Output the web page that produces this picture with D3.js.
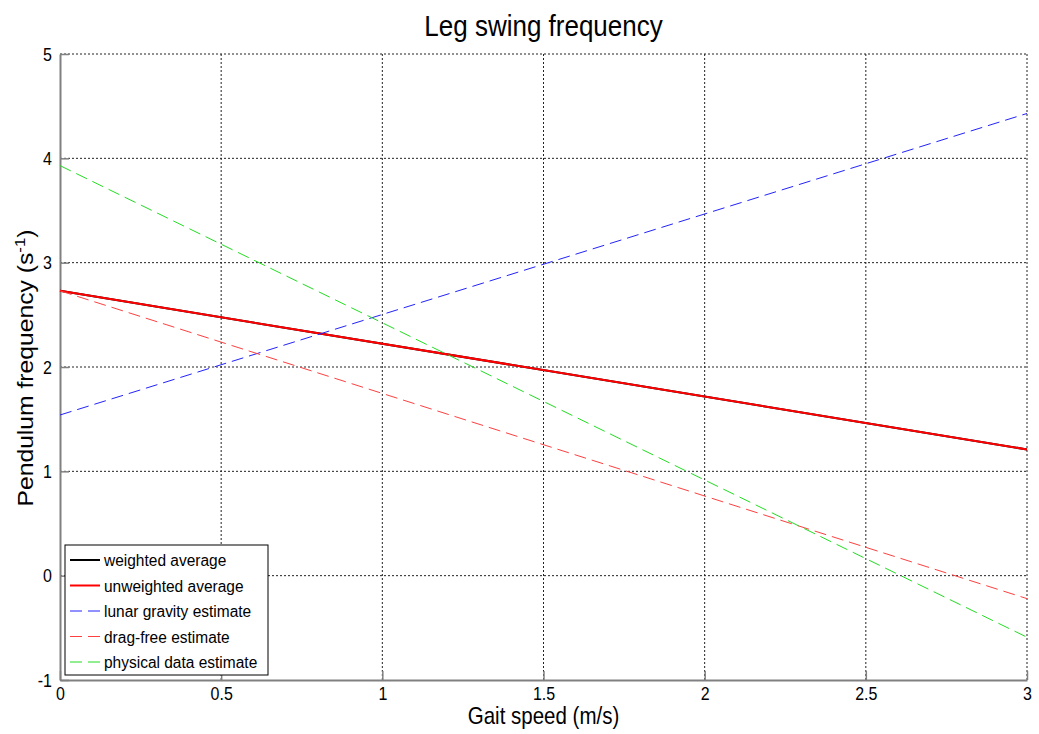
<!DOCTYPE html>
<html>
<head>
<meta charset="utf-8">
<script src="https://cdn.jsdelivr.net/npm/d3@7"></script>
<style>
  body { margin: 0; background: #fff; }
  svg text { font-family: "Liberation Sans", Arial, sans-serif; }
  .grid line { stroke: #222; stroke-dasharray: 2,2; stroke-width: 1; }
</style>
</head>
<body>
<div id="chart"></div>
<script>
// Gait speed endpoints (m/s) and pendulum frequency estimates (1/s)
const speeds = [0, 3];
const weightedAvg = [2.73, 1.21];
const unweightedAvg = [2.73, 1.21];
const lunarGravity = [1.54, 4.43];
const dragFree = [2.73, -0.22];
const physicalData = [3.93, -0.59];

const xTicks = [0, 0.5, 1, 1.5, 2, 2.5, 3];
const yTicks = [-1, 0, 1, 2, 3, 4, 5];

const seriesNames = ["weighted average", "unweighted average", "lunar gravity estimate",
    "drag-free estimate", "physical data estimate"];
const seriesValues = [weightedAvg, unweightedAvg, lunarGravity, dragFree, physicalData];
const seriesStyle = [
    { color: "#000000", width: 2, dash: null },
    { color: "#ff0000", width: 2, dash: null },
    { color: "#2222ff", width: 1, dash: "12,6" },
    { color: "#ff4040", width: 1, dash: "12,6" },
    { color: "#22dd22", width: 1, dash: "12,6" }
];

const W = 1039, H = 734;
const margin = { top: 54, right: 12, bottom: 54, left: 60 };
const width = W - margin.left - margin.right;
const height = H - margin.top - margin.bottom;

const svg = d3.select("#chart").append("svg")
    .attr("width", W).attr("height", H);
const g = svg.append("g").attr("transform", `translate(${margin.left},${margin.top})`);

const x = d3.scaleLinear().domain([0, 3]).range([0, width]);
const y = d3.scaleLinear().domain([-1, 5]).range([height, 0]);

// dotted grid
g.append("g").attr("class", "grid")
    .selectAll("line").data(xTicks.slice(1)).join("line")
    .attr("x1", d => x(d)).attr("x2", d => x(d))
    .attr("y1", 0).attr("y2", height);
g.append("g").attr("class", "grid")
    .selectAll("line").data(yTicks.slice(1)).join("line")
    .attr("x1", 0).attr("x2", width)
    .attr("y1", d => y(d)).attr("y2", d => y(d));

// axes (ticks pointing inward), labels slightly stretched vertically like the original
const xAxis = g.append("g").attr("transform", `translate(0,${height})`)
    .call(d3.axisBottom(x).tickValues(xTicks).tickFormat(d => String(d)).tickSizeInner(-9).tickSizeOuter(0));
const yAxis = g.append("g")
    .call(d3.axisLeft(y).tickValues(yTicks).tickFormat(d => String(d)).tickSizeInner(-9).tickSizeOuter(0));
[xAxis, yAxis].forEach(a => {
    a.select(".domain").attr("stroke", "#808080").attr("stroke-width", 2);
    a.selectAll(".tick line").attr("stroke", "#808080").attr("stroke-width", 1.5);
    a.selectAll(".tick text").attr("font-size", 16).attr("fill", "#000")
        .attr("x", 0).attr("y", 0).attr("dy", null);
});
xAxis.selectAll(".tick text").attr("transform", "translate(0,20) scale(1,1.2)");
yAxis.selectAll(".tick text").attr("transform", "translate(-8,6) scale(1,1.2)");

// lines
const line = d3.line().x(d => x(d[0])).y(d => y(d[1]));
seriesValues.forEach((vals, i) => {
    const s = seriesStyle[i];
    g.append("path")
        .datum(speeds.map((sp, j) => [sp, vals[j]]))
        .attr("fill", "none")
        .attr("stroke", s.color)
        .attr("stroke-width", s.width)
        .attr("stroke-dasharray", s.dash)
        .attr("d", line);
});

// legend
const legend = g.append("g").attr("transform", `translate(${x(0) + 5},${y(-1) - 135})`);
legend.append("rect")
    .attr("width", 203).attr("height", 130)
    .attr("fill", "#fff").attr("stroke", "#000").attr("stroke-width", 1);
seriesNames.forEach((name, i) => {
    const s = seriesStyle[i];
    const ly = 15 + i * 25.5;
    legend.append("line")
        .attr("x1", 5).attr("x2", 35).attr("y1", ly).attr("y2", ly)
        .attr("stroke", s.color).attr("stroke-width", s.width)
        .attr("stroke-dasharray", s.dash ? "12,6" : null);
    legend.append("text")
        .attr("transform", `translate(39,${ly + 6}) scale(1,1.1)`)
        .attr("font-size", 15.5).text(name);
});

// title and axis labels
svg.append("text")
    .attr("transform", `translate(${margin.left + width / 2},36) scale(1,1.17)`)
    .attr("text-anchor", "middle").attr("font-size", 26)
    .text("Leg swing frequency");

svg.append("text")
    .attr("transform", `translate(${margin.left + width / 2},724) scale(1,1.15)`)
    .attr("text-anchor", "middle").attr("font-size", 20.5)
    .text("Gait speed (m/s)");

const yl = svg.append("text")
    .attr("transform", "translate(33,368) rotate(-90)")
    .attr("text-anchor", "middle").attr("font-size", 22)
    .attr("textLength", 277).attr("lengthAdjust", "spacingAndGlyphs");
yl.append("tspan").text("Pendulum frequency (s");
yl.append("tspan").attr("baseline-shift", "super").attr("font-size", 15).text("-1");
yl.append("tspan").text(")");
</script>
</body>
</html>
